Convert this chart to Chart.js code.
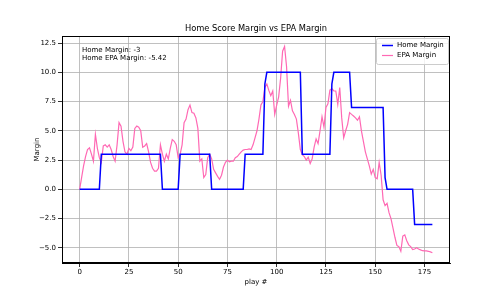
<!DOCTYPE html>
<html>
<head>
<meta charset="utf-8">
<script src="https://cdn.jsdelivr.net/npm/chart.js@4"></script>
<style>
  html, body { margin: 0; padding: 0; background: #fff; }
  #wrap { width: 500px; height: 300px; }
</style>
</head>
<body>
<div id="wrap"><canvas id="chartMargin" width="500" height="300"></canvas></div>
<script>
// home score margin after each play
var homeMargin = [
  0, 0, 0, 0, 0, 0, 0, 0, 0, 0, 0, 3, 3, 3, 3, 3, 3, 3, 3, 3,
  3, 3, 3, 3, 3, 3, 3, 3, 3, 3, 3, 3, 3, 3, 3, 3, 3, 3, 3, 3,
  3, 3, 0, 0, 0, 0, 0, 0, 0, 0, 0, 3, 3, 3, 3, 3, 3, 3, 3, 3,
  3, 3, 3, 3, 3, 3, 3, 0, 0, 0, 0, 0, 0, 0, 0, 0, 0, 0, 0, 0,
  0, 0, 0, 0, 3, 3, 3, 3, 3, 3, 3, 3, 3, 3, 9, 10, 10, 10, 10, 10,
  10, 10, 10, 10, 10, 10, 10, 10, 10, 10, 10, 10, 10, 3, 3, 3, 3, 3, 3, 3,
  3, 3, 3, 3, 3, 3, 3, 3, 9, 10, 10, 10, 10, 10, 10, 10, 10, 10, 7, 7,
  7, 7, 7, 7, 7, 7, 7, 7, 7, 7, 7, 7, 7, 7, 7, 1, 0, 0, 0, 0,
  0, 0, 0, 0, 0, 0, 0, 0, 0, 0, -3, -3, -3, -3, -3, -3, -3, -3, -3, -3
];

// EPA margin after each play
var epaMargin = [
  0.0, 1.0, 2.0, 2.8, 3.4, 3.55, 3.0, 2.4, 4.7, 3.5,
  2.7, 2.3, 3.7, 3.8, 3.6, 3.8, 3.4, 2.8, 2.4, 3.8,
  5.7, 5.4, 4.1, 3.2, 3.0, 3.5, 3.3, 3.6, 5.2, 5.4,
  5.3, 5.0, 3.6, 3.7, 3.9, 3.2, 2.3, 1.8, 1.55, 1.55,
  1.8, 3.8, 3.0, 2.4, 3.0, 2.6, 3.5, 4.25, 4.1, 3.8,
  2.7, 3.0, 3.8, 5.7, 6.0, 6.8, 7.2, 6.55, 6.5, 6.1,
  5.2, 2.4, 2.6, 1.0, 1.26, 2.7, 3.0, 2.6, 1.7, 1.4,
  1.1, 0.85, 1.2, 1.9, 2.3, 2.5, 2.35, 2.4, 2.4, 2.7,
  2.8, 3.0, 3.2, 3.35, 3.4, 3.4, 3.45, 3.4, 3.8, 4.4,
  5.0, 6.0, 7.2, 7.5, 8.7, 9.0, 8.45, 8.0, 8.4, 6.4,
  7.2, 7.9, 9.5, 11.8, 12.2, 10.5, 7.1, 7.6, 6.7, 6.4,
  6.0, 4.8, 3.4, 2.95, 2.8, 2.5, 2.75, 2.2, 2.6, 3.6,
  4.3, 3.9, 5.0, 6.2, 5.3, 7.0, 7.3, 8.47, 8.6, 8.4,
  8.4, 7.26, 8.7, 6.1, 4.4, 5.0, 5.55, 6.55, 6.4, 6.26,
  6.1, 5.9, 6.2, 5.0, 4.1, 3.2, 2.6, 2.0, 1.3, 1.7,
  1.0, 0.9, 2.3, 1.2, -0.9, -1.4, -1.2, -2.0, -2.5, -3.3,
  -4.1, -4.8, -4.9, -5.3, -4.0, -3.9, -4.4, -4.75, -4.9, -5.15,
  -5.1, -5.0, -5.1, -5.18, -5.25, -5.26, -5.26, -5.3, -5.35, -5.42
];

var xTicks = [0, 25, 50, 75, 100, 125, 150, 175];
var yTicks = [-5, -2.5, 0, 2.5, 5, 7.5, 10, 12.5];
var titleText = 'Home Score Margin vs EPA Margin';
var infoLines = ['Home Margin: -3', 'Home EPA Margin: -5.42'];

var plays = homeMargin.map(function (v, i) { return i; });

function pts(arr) {
  return arr.map(function (v, i) { return { x: plays[i], y: v }; });
}

var FONT = 'DejaVu Sans';

// title, frame, legend box and the text in the top left corner
var extras = {
  id: 'extras',
  afterDraw: function (chart) {
    var c = chart.ctx, a = chart.chartArea;
    c.save();
    c.strokeStyle = '#000';
    c.lineWidth = 1;
    c.strokeRect(a.left + 0.5, a.top + 0.5, a.right - a.left - 1, a.bottom - a.top - 1);

    c.fillStyle = '#000';
    c.textBaseline = 'middle';
    c.textAlign = 'center';
    c.font = '8.3px "' + FONT + '"';
    c.fillText(titleText, (a.left + a.right) / 2, 28.5);

    c.font = '7px "' + FONT + '"';
    c.textAlign = 'left';
    c.fillText(infoLines[0], 82, 50);
    c.fillText(infoLines[1], 82, 58.5);

    // legend
    var lx = 376, ly = 38, lw = 72, lh = 26;
    c.fillStyle = 'rgba(255,255,255,0.8)';
    c.strokeStyle = '#cccccc';
    c.beginPath();
    c.roundRect(lx + 0.5, ly + 0.5, lw, lh, 2);
    c.fill();
    c.stroke();
    chart.data.datasets.forEach(function (ds, k) {
      var yy = ly + 7.5 + k * 10;
      c.strokeStyle = ds.borderColor;
      c.lineWidth = ds.borderWidth;
      c.beginPath();
      c.moveTo(lx + 6, yy);
      c.lineTo(lx + 17, yy);
      c.stroke();
      c.fillStyle = '#000';
      c.fillText(ds.label, lx + 21, yy);
    });
    c.restore();
  }
};

var ctx = document.getElementById('chartMargin').getContext('2d');
var chart = new Chart(ctx, {
  type: 'line',
  data: {
    datasets: [{
      label: 'Home Margin',
      data: pts(homeMargin),
      borderColor: '#0000ff',
      borderWidth: 1.5,
      pointRadius: 0,
      tension: 0
    }, {
      label: 'EPA Margin',
      data: pts(epaMargin),
      borderColor: '#ff69b4',
      borderWidth: 1.2,
      pointRadius: 0,
      tension: 0
    }]
  },
  options: {
    responsive: false,
    animation: false,
    layout: { padding: { left: 0, right: 50, top: 36, bottom: 0 } },
    plugins: {
      legend: { display: false },
      tooltip: { enabled: false },
      title: { display: false }
    },
    scales: {
      x: {
        type: 'linear',
        min: -8.95,
        max: 187.95,
        afterBuildTicks: function (s) { s.ticks = xTicks.map(function (v) { return { value: v }; }); },
        afterFit: function (s) { s.height = 37; },
        ticks: {
          color: '#000',
          font: { family: FONT, size: 7 },
          padding: 1,
          maxRotation: 0,
          callback: function (v) { return String(v); }
        },
        grid: { color: '#b0b0b0', lineWidth: 0.8, tickColor: '#000', tickLength: 4 },
        border: { display: true, color: '#000' },
        title: {
          display: true,
          text: 'play #',
          color: '#000',
          font: { family: FONT, size: 7 },
          padding: { top: 0, bottom: 14 }
        }
      },
      y: {
        min: -6.3,
        max: 13.1,
        afterBuildTicks: function (s) { s.ticks = yTicks.map(function (v) { return { value: v }; }); },
        afterFit: function (s) { s.width = 62; },
        ticks: {
          color: '#000',
          font: { family: FONT, size: 7 },
          padding: 2,
          callback: function (v) { return v.toFixed(1).replace('-', '\u2212'); }
        },
        grid: { color: '#b0b0b0', lineWidth: 0.8, tickColor: '#000', tickLength: 4 },
        border: { display: true, color: '#000' },
        title: {
          display: true,
          text: 'Margin',
          color: '#000',
          font: { family: FONT, size: 7 },
          padding: { top: 33, bottom: 0 }
        }
      }
    }
  },
  plugins: [extras]
});
</script>
</body>
</html>
